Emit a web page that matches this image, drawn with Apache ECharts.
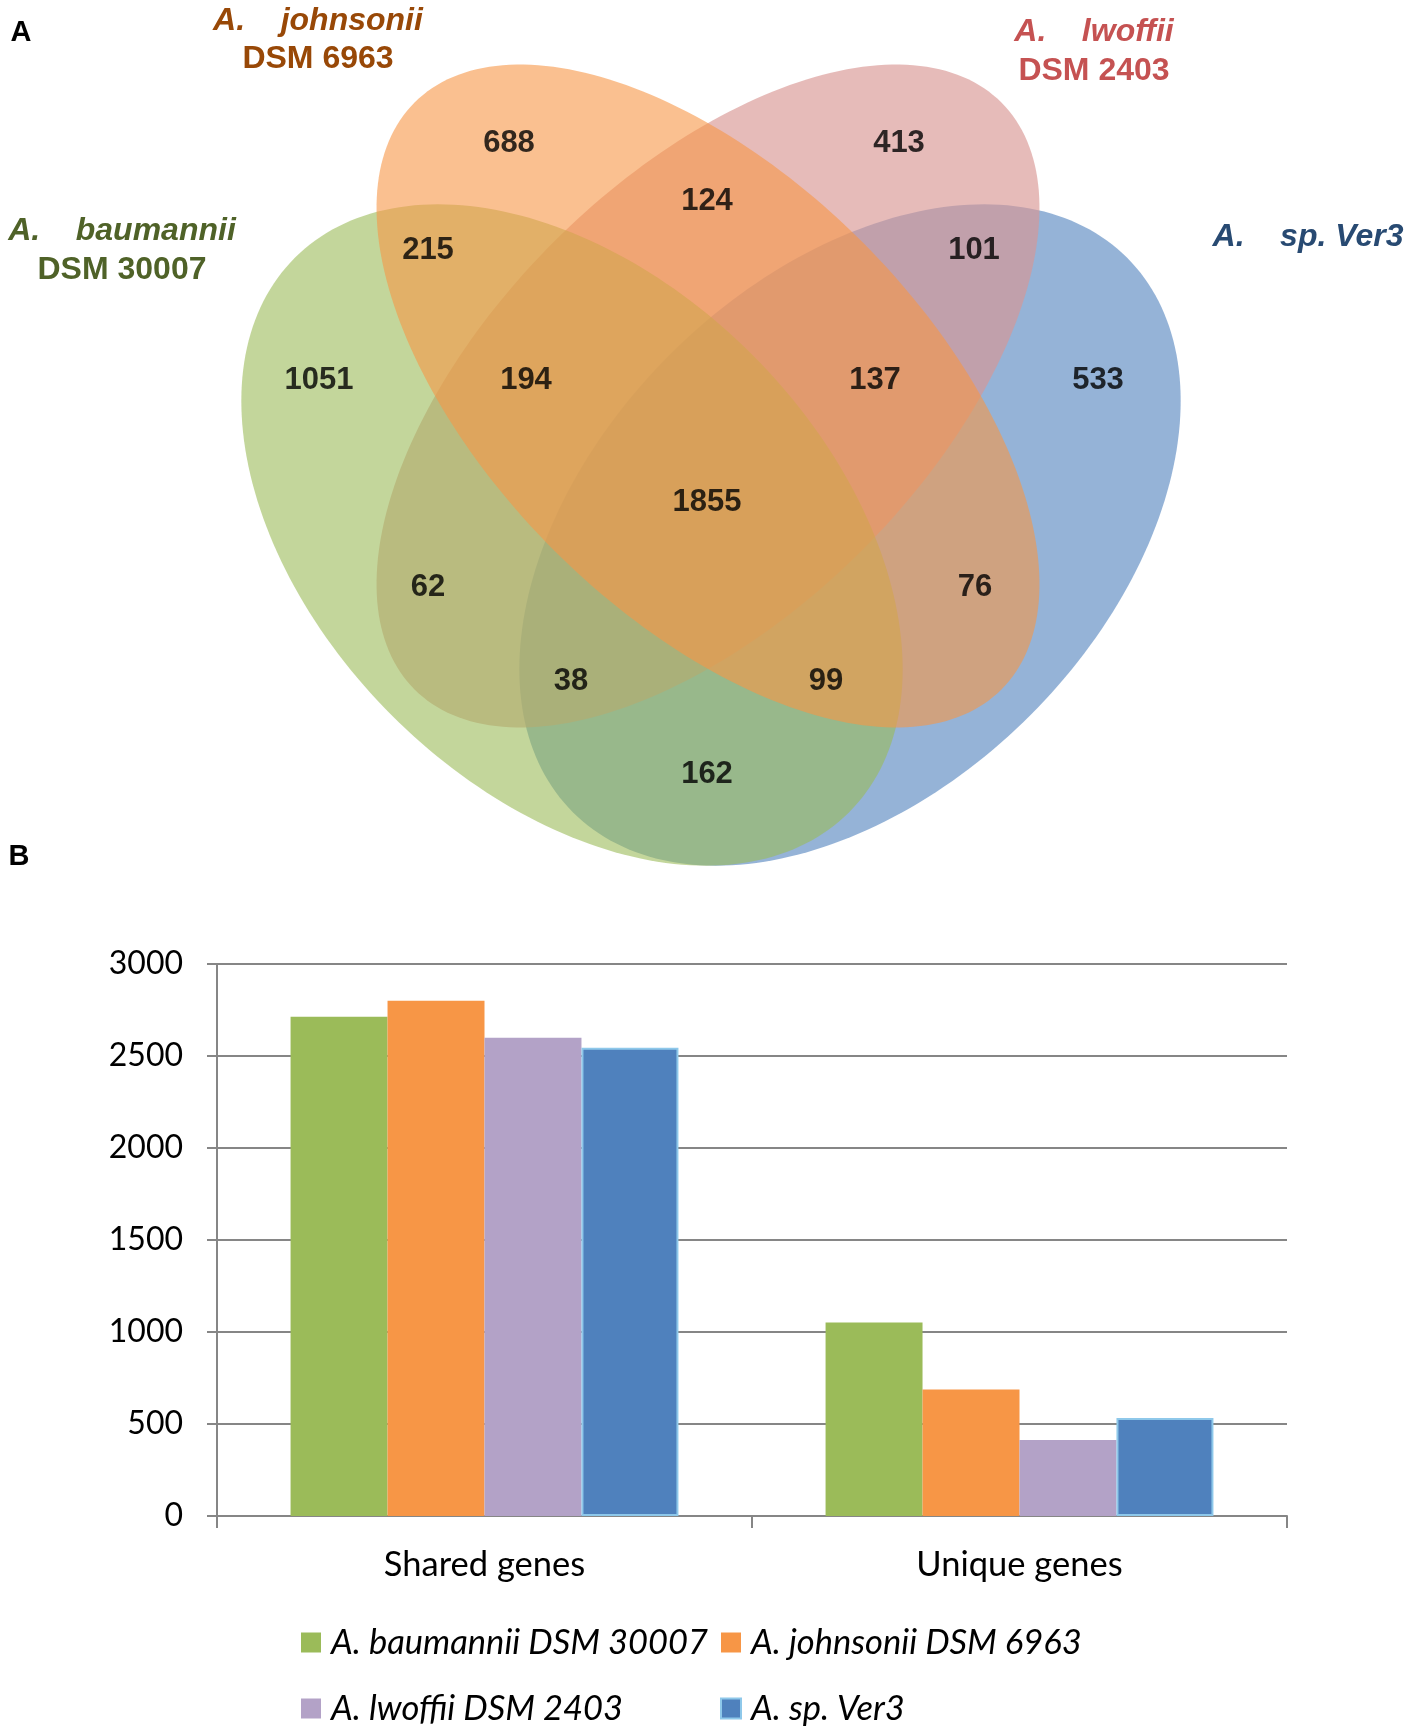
<!DOCTYPE html>
<html>
<head>
<meta charset="utf-8">
<script src="https://cdn.jsdelivr.net/npm/echarts@6/dist/echarts.min.js"></script>
<style>
html,body{margin:0;padding:0;background:#fff;}
#main{width:1410px;height:1731px;}
</style>
</head>
<body>
<div id="main"></div>
<script>
// ---------- data ----------
const setNames = ['A. baumannii DSM 30007', 'A. johnsonii DSM 6963', 'A. lwoffii DSM 2403', 'A. sp. Ver3'];
const categories = ['Shared genes', 'Unique genes'];
const sharedGenes = [2713, 2800, 2599, 2545];
const uniqueGenes = [1051, 688, 413, 533];
const yTickMin = 0, yTickMax = 3000, yTickStep = 500;
// Venn region counts (johnsonii-only, lwoffii-only, J∩L, B∩J, L∩V, B-only, B∩J∩L, J∩L∩V, V-only, all, B∩L, J∩V, B∩L∩V, B∩J∩V, B∩V)
const regionCounts = [688, 413, 124, 215, 101, 1051, 194, 137, 533, 1855, 62, 76, 38, 99, 162];

// ---------- layout / style (not data) ----------
const regionLabelPos = [[509,143],[899,143],[707,201],[428,250],[974,250],[319,380],[526,380],[875,380],[1098,380],[707,502],[428,587],[975,587],[571,681],[826,681],[707,774]];
// drawing order: Ver3, lwoffii, baumannii, johnsonii
const ellipses = [
  {cx: 850, cy: 535, a: 392, b: 255, rot: -45, color: 'rgba(79,129,189,0.6)'},
  {cx: 708, cy: 396, a: 415, b: 218, rot: -45, color: 'rgba(217,150,148,0.65)'},
  {cx: 572, cy: 535, a: 392, b: 255, rot: 45, color: 'rgba(155,187,89,0.6)'},
  {cx: 708, cy: 396, a: 415, b: 218, rot: 45, color: 'rgba(247,150,70,0.6)'}
];
const barColors = ['#9BBB59', '#F79646', '#B3A2C7', '#4F81BD'];
const vennFont = '"Liberation Sans", Arial, sans-serif';
const chartFont = 'Lato, "Open Sans", sans-serif';

const chart = echarts.init(document.getElementById('main'), null, {renderer: 'canvas'});

function txt(text, x, y, style, color, size) {
  return {
    type: 'text', z: 100,
    style: {
      text: text, x: x, y: y,
      align: 'center', verticalAlign: 'middle',
      textAlign: 'center', textVerticalAlign: 'middle',
      fontFamily: vennFont, fontWeight: 'bold', fontStyle: style,
      fontSize: size, fill: color
    }
  };
}

const barSeries = setNames.map((name, i) => ({
  name: name,
  type: 'bar',
  xAxisIndex: 1, yAxisIndex: 1,
  barGap: '0%',
  barCategoryGap: '27.5%',
  itemStyle: i === 3 ? {color: barColors[i], borderColor: '#8EC8EA', borderWidth: 2} : {color: barColors[i]},
  data: [sharedGenes[i], uniqueGenes[i]]
}));

const legendText = {fontFamily: chartFont, fontStyle: 'italic', fontSize: 34.5, color: '#000', lineHeight: 34, padding: [0, 0, 0, 5]};

const option = {
  animation: false,
  backgroundColor: '#fff',
  graphic: [
    txt('A', 21, 33, 'normal', '#000', 29),
    txt('B', 19, 857, 'normal', '#000', 29),
    txt('A.    johnsonii', 318, 21, 'italic', '#984807', 32),
    txt('DSM 6963', 318, 59, 'normal', '#984807', 32),
    txt('A.    lwoffii', 1094, 32, 'italic', '#C55252', 32),
    txt('DSM 2403', 1094, 71, 'normal', '#C55252', 32),
    txt('A.    baumannii', 122, 231, 'italic', '#4F6228', 32),
    txt('DSM 30007', 122, 270, 'normal', '#4F6228', 32),
    txt('A.    sp. Ver3', 1308, 237, 'italic', '#284A72', 32)
  ],
  grid: [
    {left: 0, top: 0, width: 1410, height: 870},
    {left: 217, top: 964, right: 123, bottom: 1731 - 1516}
  ],
  xAxis: [
    {gridIndex: 0, type: 'value', min: 0, max: 1410, show: false},
    {
      gridIndex: 1, type: 'category', data: categories,
      axisLine: {lineStyle: {color: '#868686', width: 2}},
      axisTick: {show: true, length: 12, lineStyle: {color: '#868686', width: 2}},
      axisLabel: {color: '#000', fontFamily: chartFont, fontSize: 34.5, margin: 31},
      splitLine: {show: false}
    }
  ],
  yAxis: [
    {gridIndex: 0, type: 'value', min: 0, max: 870, inverse: true, show: false},
    {
      gridIndex: 1, type: 'value', min: yTickMin, max: yTickMax, interval: yTickStep,
      axisLine: {show: true, lineStyle: {color: '#868686', width: 2}},
      axisTick: {show: true, length: 10, lineStyle: {color: '#868686', width: 2}},
      axisLabel: {color: '#000', fontFamily: chartFont, fontSize: 32, margin: 34, formatter: v => String(v)},
      splitLine: {show: true, lineStyle: {color: '#868686', width: 2}}
    }
  ],
  legend: [
    {
      data: [setNames[0], setNames[2]], orient: 'vertical', left: 301, top: 1625,
      padding: 0, itemGap: 31, itemWidth: 20, itemHeight: 20, icon: 'rect',
      textStyle: legendText
    },
    {
      data: [setNames[1], setNames[3]], orient: 'vertical', left: 720, top: 1625,
      padding: 0, itemGap: 31, itemWidth: 20, itemHeight: 20, icon: 'rect',
      textStyle: legendText
    }
  ],
  series: [
    {
      type: 'custom',
      xAxisIndex: 0, yAxisIndex: 0,
      silent: true,
      data: ellipses.map((e, i) => [i]),
      renderItem: function (params, api) {
        const e = ellipses[api.value(0)];
        const th = e.rot * Math.PI / 180;
        const pts = [];
        for (let k = 0; k < 240; k++) {
          const t = k / 240 * Math.PI * 2;
          const x = e.cx + e.a * Math.cos(t) * Math.cos(th) - e.b * Math.sin(t) * Math.sin(th);
          const y = e.cy + e.a * Math.cos(t) * Math.sin(th) + e.b * Math.sin(t) * Math.cos(th);
          pts.push(api.coord([x, y]));
        }
        return {type: 'polygon', shape: {points: pts, smooth: 0}, style: {fill: e.color, stroke: null}};
      },
      z: 1
    },
    {
      type: 'scatter',
      xAxisIndex: 0, yAxisIndex: 0,
      silent: true,
      symbolSize: 1,
      itemStyle: {color: 'transparent'},
      z: 5,
      data: regionCounts.map((c, i) => ({value: [regionLabelPos[i][0], regionLabelPos[i][1], c]})),
      label: {
        show: true, position: 'inside',
        formatter: p => String(p.value[2]),
        color: '#000', fontFamily: vennFont, fontWeight: 'bold', fontSize: 31
      }
    }
  ].concat(barSeries)
};
chart.setOption(option);
</script>
</body>
</html>
